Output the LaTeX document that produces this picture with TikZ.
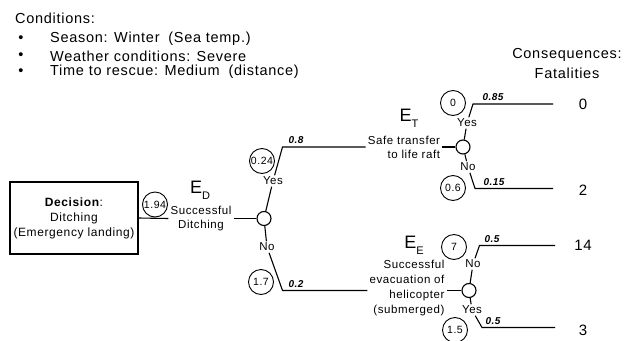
\documentclass[tikz,border=0pt]{standalone}
\usepackage{fontspec}
\setmainfont{Liberation Sans}[LetterSpace=5]
\begin{document}
\begin{tikzpicture}[x=1pt,y=-1pt,
  line/.style={line width=1.1pt},
  chance/.style={circle, draw, line width=1.1pt, minimum size=14pt, inner sep=0pt},
  val/.style={circle, draw, line width=0.9pt, minimum size=25pt, inner sep=0pt, font=\fontsize{10.5}{12}\selectfont},
  lbl/.style={font=\fontsize{11.5}{14}\selectfont, inner sep=1.5pt},
  prob/.style={font=\fontsize{10}{12}\selectfont\bfseries\itshape, inner sep=0pt},
  big/.style={font=\fontsize{14.5}{16}\selectfont, inner sep=0pt},
  evt/.style={font=\fontsize{18}{20}\selectfont, inner sep=0pt},
  fat/.style={font=\fontsize{15}{17}\selectfont, inner sep=0pt}]
\useasboundingbox (0,0) rectangle (634,340);

% conditions
\node[big, anchor=west] (cond) at (15,18) {Conditions:};
\node[big] (b1) at (21,39) {\textbullet};
\node[big] (b2) at (21,56) {\textbullet};
\node[big] (b3) at (21,72) {\textbullet};
\node[big, anchor=west] (t1) at (50,39) {Season: Winter\hspace{4pt} (Sea temp.)};
\node[big, anchor=west] (t2) at (50,56) {Weather conditions: Severe};
\node[big, anchor=west] (t3) at (50,72) {Time to rescue: Medium\hspace{4pt} (distance)};

% consequences header
\node[big] (cons) at (567,55) {Consequences:};
\node[big] (fath) at (567,73) {Fatalities};

% decision
\node[draw, line width=1.3pt, minimum width=128pt, minimum height=72pt, align=center,
      font=\fontsize{12}{15}\selectfont] (dec) at (74,218)
      {\textbf{Decision}:\\Ditching\\(Emergency landing)};
\node[val] (v194) at (155,204.5) {1.94};

% E_D
\node[evt] (edl) at (200,190) {E\raisebox{-0.35em}{\fontsize{11}{12}\selectfont D}};
\node[lbl, align=center, inner sep=2pt] (edt) at (201,218.5) {Successful\\Ditching};
\node[chance] (c1) at (264,218.5) {};
\draw[line] (dec.east) -- (edt.west);
\draw[line] (edt.east) -- (c1);

% Yes branch of E_D
\node[lbl] (yes1) at (273,181) {Yes};
\coordinate (k1) at (282.5,147);
\node[val] (v024) at (262,161) {0.24};
\node[prob] (p08) at (296,140.5) {0.8};

% E_T
\node[evt] (etl) at (409,118) {E\raisebox{-0.35em}{\fontsize{11}{12}\selectfont T}};
\node[lbl, align=right, inner sep=2pt] (ett) at (404,147) {Safe transfer\\to life raft};
\draw[line] (c1) -- (yes1) -- (k1) -- (ett.west);
\node[chance] (c2) at (463,147) {};
\draw[line] (ett.east) -- (c2);

% E_T branches
\node[lbl] (yes2) at (467,123) {Yes};
\coordinate (k3) at (473,104);
\coordinate (e0) at (553,104);
\node[val] (v0) at (453,103) {0};
\node[prob] (p085) at (493,97.5) {0.85};
\draw[line] (c2) -- (yes2) -- (k3) -- (e0);
\node[lbl] (no2) at (468,167) {No};
\coordinate (k4) at (475,188.5);
\coordinate (e2) at (553,188.5);
\node[val] (v06) at (453,188) {0.6};
\node[prob] (p015) at (494,182) {0.15};
\draw[line] (c2) -- (no2) -- (k4) -- (e2);

% No branch of E_D
\node[lbl] (no1) at (267,247) {No};
\coordinate (k2) at (282.5,290.5);
\node[val] (v17) at (261,282) {1.7};
\node[prob] (p02) at (296,284) {0.2};

% E_E
\node[evt] (eel) at (414,245) {E\raisebox{-0.35em}{\fontsize{11}{12}\selectfont E}};
\node[lbl, align=right, inner sep=2pt, font=\fontsize{11.5}{15}\selectfont] (eet) at (407,288.5)
   {Successful\\evacuation of\\helicopter\\(submerged)};
\draw[line] (c1) -- (no1) -- (k2) -- (eet.west |- k2);
\node[chance] (c3) at (469,290.5) {};
\draw[line] (eet.east |- c3) -- (c3);

% E_E branches
\node[lbl] (no3) at (473,264) {No};
\coordinate (k5) at (479.5,245.5);
\coordinate (e14) at (555,245.5);
\node[val] (v7) at (454,247) {7};
\node[prob] (p05a) at (492,239) {0.5};
\draw[line] (c3) -- (no3) -- (k5) -- (e14);
\node[lbl] (yes3) at (472,310) {Yes};
\coordinate (k6) at (482,327.5);
\coordinate (e3) at (555,327.5);
\node[val] (v15) at (455,330) {1.5};
\node[prob] (p05b) at (493,321) {0.5};
\draw[line] (c3) -- (yes3) -- (k6) -- (e3);

% fatalities
\node[fat] (f0) at (583,104) {0};
\node[fat] (f2) at (583,190) {2};
\node[fat] (f14) at (583,245) {14};
\node[fat] (f3) at (583,330) {3};
\end{tikzpicture}
\end{document}
